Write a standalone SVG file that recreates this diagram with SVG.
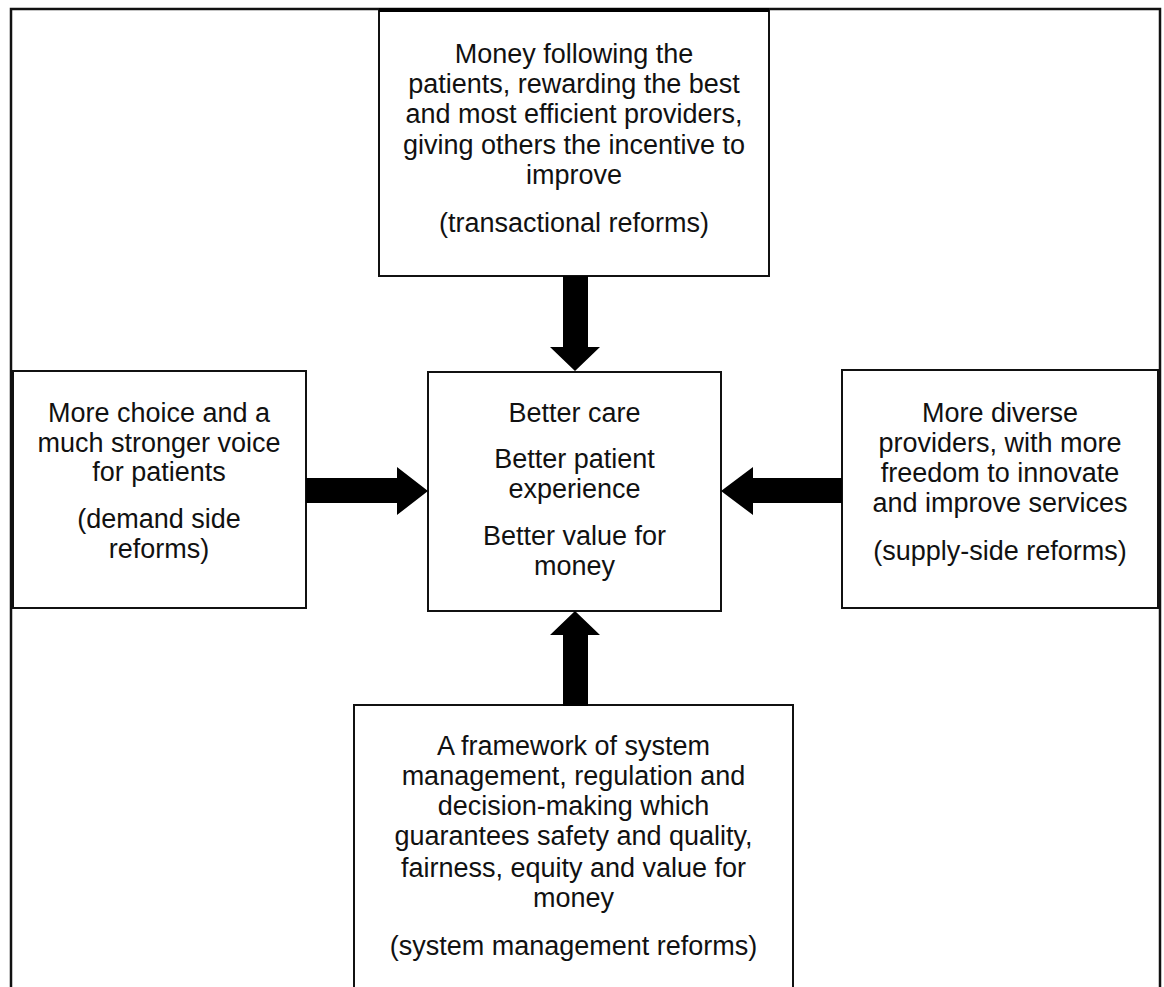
<svg xmlns="http://www.w3.org/2000/svg" width="1164" height="987" viewBox="0 0 1164 987">
<style>
.box{fill:#fff;stroke:#111;stroke-width:2}
.frame{fill:none;stroke:#111;stroke-width:2.5}
.t{font-family:"Liberation Sans",Arial,sans-serif;font-size:27px;fill:#111;text-anchor:middle}
.arrow{fill:#000;stroke:none}
</style>
<rect id="frame" class="frame" x="11" y="9" width="1149" height="1000"/>
<g id="top">
<rect class="box" x="379" y="10" width="390" height="266"/>
<line x1="379" y1="10" x2="769" y2="10" stroke="#000" stroke-width="4"/>
<text class="t"><tspan x="574" y="63">Money following the</tspan><tspan x="574" y="93">patients, rewarding the best</tspan><tspan x="574" y="123">and most efficient providers,</tspan><tspan x="574" y="154">giving others the incentive to</tspan><tspan x="574" y="184">improve</tspan><tspan x="574" y="232">(transactional reforms)</tspan></text>
</g>
<g id="center">
<rect class="box" x="428" y="372" width="293" height="239"/>
<text class="t"><tspan x="574.5" y="422">Better care</tspan><tspan x="574.5" y="468">Better patient</tspan><tspan x="574.5" y="498">experience</tspan><tspan x="574.5" y="545">Better value for</tspan><tspan x="574.5" y="575">money</tspan></text>
</g>
<g id="left">
<rect class="box" x="13" y="371" width="293" height="237"/>
<text class="t"><tspan x="159" y="422">More choice and a</tspan><tspan x="159" y="452">much stronger voice</tspan><tspan x="159" y="481">for patients</tspan><tspan x="159" y="528">(demand side</tspan><tspan x="159" y="558">reforms)</tspan></text>
</g>
<g id="right">
<rect class="box" x="842" y="370" width="316" height="238"/>
<text class="t"><tspan x="1000" y="422">More diverse</tspan><tspan x="1000" y="452">providers, with more</tspan><tspan x="1000" y="482">freedom to innovate</tspan><tspan x="1000" y="512">and improve services</tspan><tspan x="1000" y="560">(supply-side reforms)</tspan></text>
</g>
<g id="bottom">
<rect class="box" x="354" y="705" width="439" height="320"/>
<text class="t"><tspan x="573.5" y="755">A framework of system</tspan><tspan x="573.5" y="785">management, regulation and</tspan><tspan x="573.5" y="815">decision-making which</tspan><tspan x="573.5" y="845">guarantees safety and quality,</tspan><tspan x="573.5" y="877">fairness, equity and value for</tspan><tspan x="573.5" y="907">money</tspan><tspan x="573.5" y="955">(system management reforms)</tspan></text>
</g>
<g id="connectors">
<polygon class="arrow" points="563,276 588,276 588,347 600,347 575,371 550,347 563,347"/>
<polygon class="arrow" points="563,706 588,706 588,635 600,635 575,611 550,635 563,635"/>
<polygon class="arrow" points="306,478 397,478 397,467 428,491 397,515 397,503 306,503"/>
<polygon class="arrow" points="842,478 753,478 753,467 721,491 753,515 753,503 842,503"/>
</g>
</svg>
